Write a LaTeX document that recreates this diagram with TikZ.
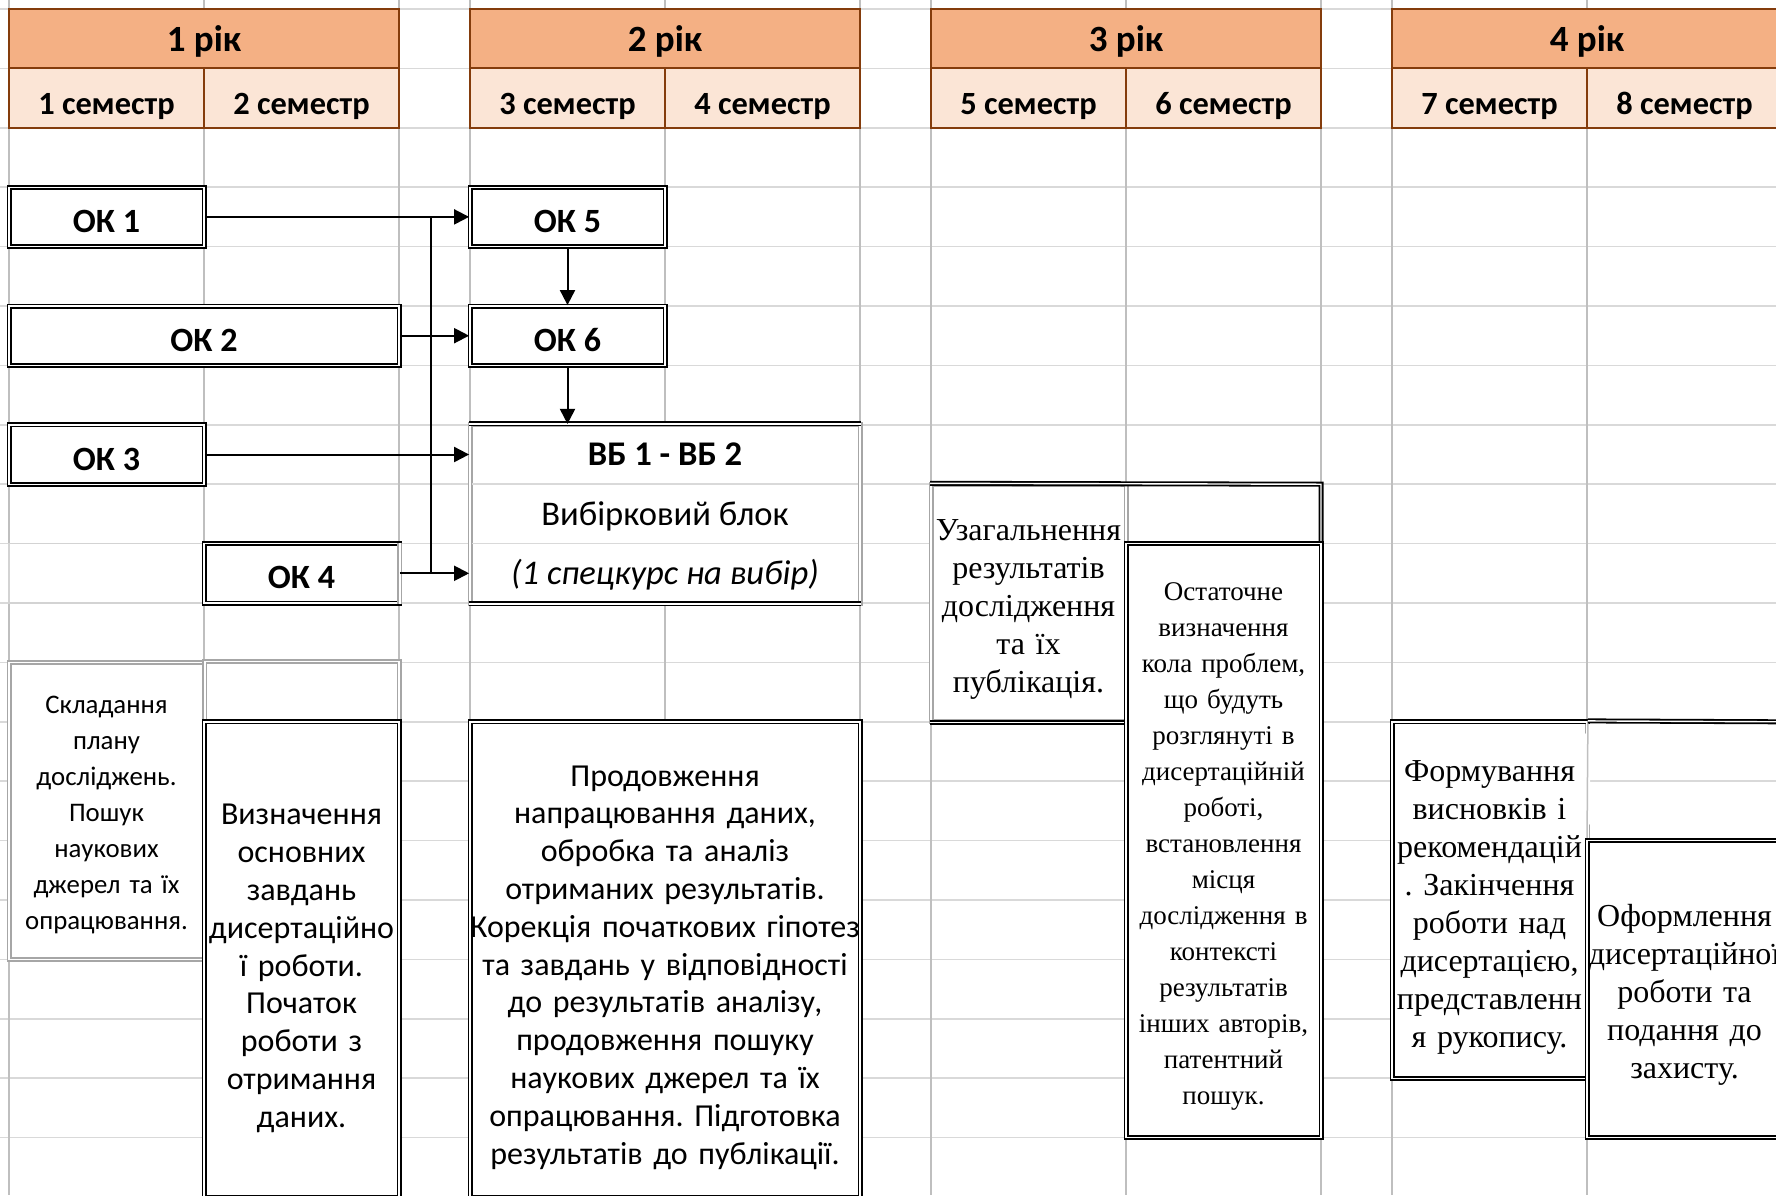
\documentclass[tikz,border=0pt]{standalone}
\usepackage{fontspec}
\setmainfont{Carlito}
\newfontfamily\tnr{Liberation Serif}
\usetikzlibrary{arrows.meta}
\frenchspacing

\definecolor{hdrfill}{HTML}{F4B084}
\definecolor{semfill}{HTML}{FBE5D6}
\definecolor{hdrline}{HTML}{843C0C}
\definecolor{gridh}{HTML}{D9D9D9}
\definecolor{gridv}{HTML}{BFBFBF}
\definecolor{frame}{HTML}{A6A6A6}

\begin{document}
\begin{tikzpicture}[x=0.5pt, y=-0.5pt,
    span/.style args={#1:#2:#3:#4}{at={({(#1+#3)/2},{(#2+#4)/2})},
      minimum width={(#3-#1)*0.5pt}, minimum height={(#4-#2)*0.5pt}},
    hgrid/.style={gridh, line width=0.75pt},
    vgrid/.style={gridv, line width=0.75pt},
    hdr/.style={draw=hdrline, line width=1pt, fill=hdrfill, inner sep=0pt, text height=14pt, text depth=1.5pt, font=\fontsize{18.5}{21}\selectfont\bfseries},
    sem/.style={draw=hdrline, line width=1pt, fill=semfill, inner sep=0pt, text height=18pt, text depth=1.5pt, font=\fontsize{16.2}{18}\selectfont\bfseries},
    dline/.style={draw=black, line width=0.9pt, double=white, double distance=0.7pt},
    gline/.style={dline, draw=frame},
    cell/.style={dline, fill=white, inner sep=0pt, align=center},
    gcell/.style={cell, draw=frame},
    ok/.style={cell, text height=15.5pt, text depth=0pt, font=\fontsize{17}{20}\selectfont\bfseries},
    sans/.style={font=\fontsize{16}{18.9}\selectfont},
    serif/.style={font=\tnr\fontsize{16}{19}\selectfont},
    arr/.style={line width=1pt, -{Triangle[length=7.5pt, width=7.5pt]}}
  ]
\useasboundingbox (0,0) rectangle (1776,1195);

\foreach \k in {0,...,20}
  \draw[hgrid] (0,{9+59.4*\k}) -- (1776,{9+59.4*\k});
\foreach \x in {9,204,399,470,665,860,931,1126,1321,1392,1587}
  \draw[vgrid] (\x,0) -- (\x,1195);

\foreach \i in {1,...,4}{
  \pgfmathsetmacro\xa{9+461*(\i-1)}
  \pgfmathsetmacro\xb{\xa+195}
  \pgfmathsetmacro\xc{\xa+390}
  \pgfmathtruncatemacro\sa{2*\i-1}
  \pgfmathtruncatemacro\sb{2*\i}
  \node[hdr, span=\xa:9:\xc:68.4] (year\i) {\i{} рік};
  \node[sem, span=\xa:68.4:\xb:127.8] (sem\sa) {\sa{} семестр};
  \node[sem, span=\xb:68.4:\xc:127.8] (sem\sb) {\sb{} семестр};
}

\node[ok, span=9:187.2:204:246.6] (ok1) {ОК 1};
\node[ok, span=9:306:399:365.4] (ok2) {ОК 2};
\node[ok, span=9:424.8:204:484.2] (ok3) {ОК 3};
\draw[frame!50, line width=0.6pt] (9,543.6) rectangle (204,603);
\node[ok, span=204:543.6:399:603] (ok4) {ОК 4};
\draw[gline] (ok4.north east) -- (ok4.south east);
\node[ok, span=470:187.2:665:246.6] (ok5) {ОК 5};
\node[ok, span=470:306:665:365.4] (ok6) {ОК 6};

\node[gcell, text depth=-1pt, font=\fontsize{17.3}{29.7}\selectfont, span=470:424.8:860:603] (vb)
  {\textbf{ВБ 1 - ВБ 2}\\Вибірковий блок\\\textit{(1 спецкурс на вибір)}};
\draw[hgrid] (472,484.2) -- (858,484.2);
\draw[hgrid] (472,543.6) -- (858,543.6);
\draw[dline] (vb.north west) -- (vb.north east);
\draw[dline] (vb.south west) -- (vb.south east);

\coordinate (bus) at (431,0);
\draw[line width=1pt] (ok1.east -| bus) -- (ok4.east -| bus);
\draw[arr] (ok1) -- (ok5);
\draw[arr] (ok2) -- (ok6);
\draw[arr] (ok3.east) -- (ok3.east -| vb.west);
\draw[arr] (ok4.east) -- (ok4.east -| vb.west);
\draw[arr] (ok5) -- (ok6);
\draw[arr] (ok6) -- (ok6 |- vb.north);

\node[gcell, text width=97.5pt, text height=13.1pt, font=\fontsize{13.4}{18}\selectfont, span=9:662.4:204:959.4] (plan)
  {Складання\\плану\\досліджень.\\Пошук\\наукових\\джерел та їх\\опрацювання.};
\draw[gline] (plan.north east) rectangle (399,721.8);
\node[cell, sans, text width=97.5pt, text height=19.3pt, span=204:721.8:399:1197] (goal)
  {Визначення\\основних\\завдань\\дисертаційно\\ї роботи.\\Початок\\роботи з\\отримання\\даних.};
\node[cell, sans, text width=195pt, text height=18.3pt, span=470:721.8:860:1197] (cont)
  {Продовження\\напрацювання даних,\\обробка та аналіз\\отриманих результатів.\\Корекція початкових гіпотез\\та завдань у відповідності\\до результатів аналізу,\\продовження пошуку\\наукових джерел та їх\\опрацювання. Підготовка\\результатів до публікації.};

\node[gcell, serif, text width=97.5pt, text height=16.8pt, span=931:484.2:1126:721.8] (sum)
  {Узагальнення\\результатів\\дослідження\\та їх\\публікація.};
\draw[dline] (sum.north west) -- (1321,484.2) -- (1321,543.6) -- (1126,543.6);
\draw[dline] (sum.south west) -- (sum.south east);
\node[cell, text width=97.5pt, text height=14.5pt, font=\tnr\fontsize{13.5}{18}\selectfont, span=1126:543.6:1321:1137.6] (final)
  {Остаточне\\визначення\\кола проблем,\\що будуть\\розглянуті в\\дисертаційній\\роботі,\\встановлення\\місця\\дослідження в\\контексті\\результатів\\інших авторів,\\патентний\\пошук.};

\node[cell, serif, text width=97.5pt, text height=17.5pt, span=1392:721.8:1587:1078.2] (concl)
  {Формування\\висновків і\\рекомендацій\\. Закінчення\\роботи над\\дисертацією,\\представленн\\я рукопису.};
\draw[white, line width=2.6pt] ([yshift=-1.5pt]concl.north east) -- (1587,840.6);
\draw[vgrid] (concl.north east) -- (1587,840.6);
\draw[dline] (concl.north east) -- (1782,721.8);
\node[cell, serif, text width=97.5pt, text height=17pt, span=1587:840.6:1782:1137.6] (form)
  {Оформлення\\дисертаційної\\роботи та\\подання до\\захисту.};
\end{tikzpicture}
\end{document}
